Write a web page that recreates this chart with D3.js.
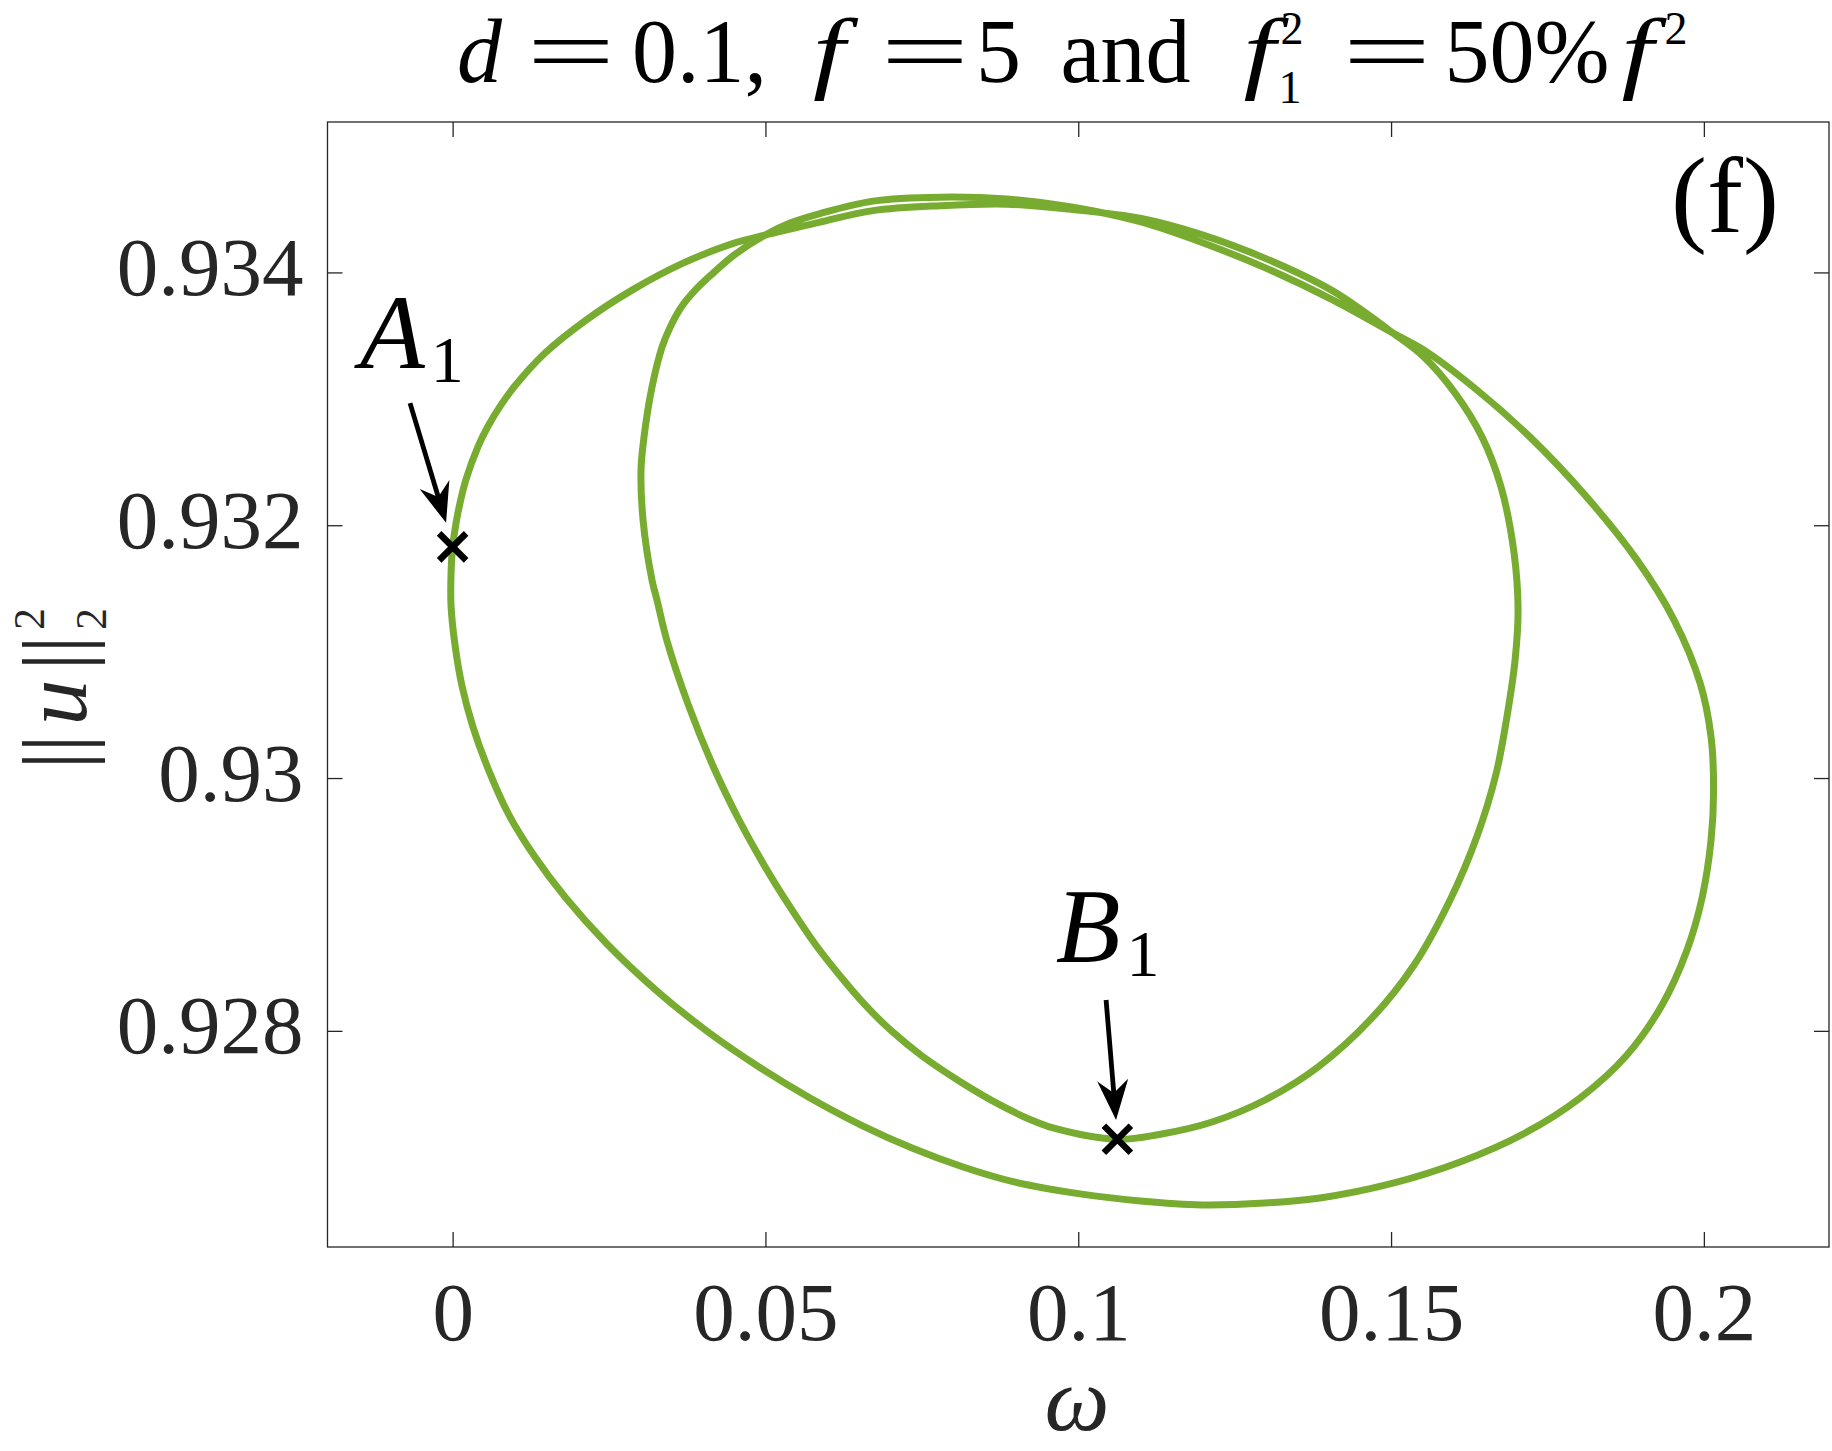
<!DOCTYPE html>
<html><head><meta charset="utf-8">
<script src="https://cdn.jsdelivr.net/npm/d3@7"></script>
<style>
body{margin:0;background:#fff}
svg{display:block}
text{font-family:"Liberation Serif","Times New Roman",serif}
</style>
</head><body>
<svg id="chart" width="1832" height="1451"></svg>
<script>
// ---------- data ----------
const xTicks = [0, 0.05, 0.1, 0.15, 0.2];
const xTickLabels = ["0", "0.05", "0.1", "0.15", "0.2"];
const yTicks = [0.928, 0.93, 0.932, 0.934];
const yTickLabels = ["0.928", "0.93", "0.932", "0.934"];
const xDomain = [-0.02, 0.22];
const yDomain = [0.92629, 0.93519];

// single closed response curve, traced in order (omega, ||u||^2)
// 1) from A1 up the outer-left arc to the left crossing
const seg1Omega = [0.0000, 0.00037, 0.00083, 0.00211, 0.00404, 0.00561, 0.00766, 0.00981, 0.01477, 0.02133, 0.02868, 0.03683, 0.04498, 0.04994];
const seg1Norm  = [0.931829, 0.931962, 0.932094, 0.932357, 0.932620, 0.932779, 0.932946, 0.933093, 0.933362, 0.933623, 0.933860, 0.934073, 0.934232, 0.934295];
// 2) top band (first pass) to the right crossing
const seg2Omega = [0.05393, 0.05873, 0.06720, 0.07791, 0.08862, 0.09917, 0.10988, 0.11947, 0.13018, 0.14073, 0.15032];
const seg2Norm  = [0.934342, 0.934398, 0.934489, 0.934528, 0.934540, 0.934497, 0.934429, 0.934303, 0.934105, 0.933852, 0.933520];
// 3) inner loop: right arc, bottom through B1, left arc back up to the left crossing
const seg3Omega = [0.15528, 0.16023, 0.16455, 0.16758, 0.16966, 0.17030, 0.16982, 0.16854, 0.16678, 0.16375, 0.15959, 0.15368, 0.14680, 0.13833, 0.12986, 0.12139, 0.11292, 0.10625, 0.09597, 0.09230, 0.08750, 0.08159, 0.07503, 0.07024, 0.06608, 0.06208, 0.05793, 0.05393, 0.04977, 0.04578, 0.04162, 0.03763, 0.03427, 0.03267, 0.03187, 0.03044, 0.03011, 0.03059, 0.03187, 0.03347, 0.03477, 0.03653, 0.03877, 0.04146, 0.04498, 0.04994];
const seg3Norm  = [0.933330, 0.933045, 0.932697, 0.932302, 0.931780, 0.931329, 0.930933, 0.930490, 0.930032, 0.929541, 0.929051, 0.928521, 0.928094, 0.927714, 0.927453, 0.927279, 0.927180, 0.927142, 0.927232, 0.927299, 0.927414, 0.927584, 0.927801, 0.927995, 0.928197, 0.928426, 0.928687, 0.928980, 0.929312, 0.929668, 0.930095, 0.930585, 0.931084, 0.931408, 0.931566, 0.932041, 0.932436, 0.932697, 0.933093, 0.933409, 0.933567, 0.933725, 0.933860, 0.933987, 0.934137, 0.934295];
// 4) top band (second pass) to the right crossing
const seg4Omega = [0.05393, 0.05873, 0.06720, 0.07791, 0.08862, 0.09917, 0.10988, 0.11947, 0.13018, 0.14073, 0.15032];
const seg4Norm  = [0.934390, 0.934465, 0.934564, 0.934595, 0.934580, 0.934516, 0.934402, 0.934243, 0.934030, 0.933781, 0.933520];
// 5) outer loop: right arc, bottom, and left arc back to A1
const seg5Omega = [0.15528, 0.16375, 0.17222, 0.18086, 0.18933, 0.19524, 0.19940, 0.20115, 0.20155, 0.20115, 0.19971, 0.19731, 0.19332, 0.18756, 0.18021, 0.17142, 0.16103, 0.14984, 0.13865, 0.12986, 0.11979, 0.10988, 0.10029, 0.08974, 0.08159, 0.07344, 0.06528, 0.05713, 0.04898, 0.04083, 0.03267, 0.02452, 0.01797, 0.01317, 0.00902, 0.00582, 0.00326, 0.00150, 0.00038, -0.00026, -0.00026];
const seg5Norm  = [0.933385, 0.933069, 0.932697, 0.932246, 0.931724, 0.931250, 0.930751, 0.930324, 0.929897, 0.929510, 0.929051, 0.928640, 0.928205, 0.927801, 0.927469, 0.927192, 0.926963, 0.926789, 0.926678, 0.926638, 0.926623, 0.926654, 0.926710, 0.926805, 0.926923, 0.927073, 0.927255, 0.927469, 0.927714, 0.927991, 0.928315, 0.928695, 0.929059, 0.929375, 0.929707, 0.930055, 0.930403, 0.930728, 0.931052, 0.931368, 0.931606];

// marked points
const pointNames = ["A", "B"];
const pointOmega = [0.0, 0.10625];
const pointNorm  = [0.931829, 0.927142];
// annotation arrows (tail -> tip) and label anchors, data coordinates
const arrowTailOmega = [-0.00681, 0.10445];
const arrowTailNorm  = [0.932966, 0.928244];
const arrowTipOmega  = [-0.00105, 0.10604];
const arrowTipNorm   = [0.932019, 0.927295];
const labelOmega = [-0.0148, 0.0964];
const labelNorm  = [0.933243, 0.928547];

// ---------- layout ----------
const svg = d3.select("#chart");
const L = 327.5, R = 1829, T = 122, B = 1247;
const x = d3.scaleLinear().domain(xDomain).range([L, R]);
const y = d3.scaleLinear().domain(yDomain).range([B, T]);
const axisColor = "#262626";

// axes (ticks inward, box)
const gx = svg.append("g").attr("transform", `translate(0,${B})`)
  .call(d3.axisBottom(x).tickValues(xTicks).tickSize(-15).tickSizeOuter(0).tickFormat((d,i)=>xTickLabels[i]));
const gxt = svg.append("g").attr("transform", `translate(0,${T})`)
  .call(d3.axisTop(x).tickValues(xTicks).tickSize(-15).tickSizeOuter(0).tickFormat(""));
const gy = svg.append("g").attr("transform", `translate(${L},0)`)
  .call(d3.axisLeft(y).tickValues(yTicks).tickSize(-15).tickSizeOuter(0).tickFormat((d,i)=>yTickLabels[i]));
const gyr = svg.append("g").attr("transform", `translate(${R},0)`)
  .call(d3.axisRight(y).tickValues(yTicks).tickSize(-15).tickSizeOuter(0).tickFormat(""));
[gx,gxt,gy,gyr].forEach(g=>{
  g.select(".domain").remove();
  g.selectAll(".tick line").attr("stroke", axisColor).attr("stroke-width", 1.3);
});
gx.selectAll(".tick text").attr("y", 93).attr("dy", 0)
  .attr("font-size", 83).attr("fill", axisColor).attr("font-family", "Liberation Serif");
gy.selectAll(".tick text").attr("x", -24).attr("y", 22).attr("dy", 0).attr("text-anchor", "end")
  .attr("font-size", 83).attr("fill", axisColor).attr("font-family", "Liberation Serif");
svg.append("rect").attr("x", L).attr("y", T).attr("width", R-L).attr("height", B-T)
  .attr("fill", "none").attr("stroke", axisColor).attr("stroke-width", 1.3);

// curve
const allOmega = [].concat(seg1Omega, seg2Omega, seg3Omega, seg4Omega, seg5Omega);
const allNorm  = [].concat(seg1Norm, seg2Norm, seg3Norm, seg4Norm, seg5Norm);
const pts = allOmega.map((w,i)=>[w, allNorm[i]]);
const line = d3.line().x(d=>x(d[0])).y(d=>y(d[1])).curve(d3.curveCatmullRomClosed.alpha(0.5));
svg.append("path").attr("d", line(pts)).attr("fill", "none")
  .attr("stroke", "#77AC30").attr("stroke-width", 7).attr("stroke-linejoin", "round");

// markers
pointOmega.forEach((w,i)=>{
  const cx = x(w), cy = y(pointNorm[i]), s = 13.5;
  svg.append("path").attr("d", `M${cx-s},${cy-s}L${cx+s},${cy+s}M${cx-s},${cy+s}L${cx+s},${cy-s}`)
    .attr("stroke", "#000").attr("stroke-width", 6.5);
});

// arrows
arrowTailOmega.forEach((w,i)=>{
  const x0 = x(w), y0 = y(arrowTailNorm[i]), x1 = x(arrowTipOmega[i]), y1 = y(arrowTipNorm[i]);
  const dx = x1-x0, dy = y1-y0, len = Math.hypot(dx,dy), ux = dx/len, uy = dy/len;
  const hl = 40, hw = 15.5, nd = 27;
  const bx = x1-ux*hl, by = y1-uy*hl;
  const nx = x1-ux*nd, ny = y1-uy*nd;
  svg.append("line").attr("x1", x0).attr("y1", y0).attr("x2", nx).attr("y2", ny)
    .attr("stroke", "#000").attr("stroke-width", 4.8);
  svg.append("path").attr("d", `M${x1},${y1}L${bx-uy*hw},${by+ux*hw}L${nx},${ny}L${bx+uy*hw},${by-ux*hw}Z`)
    .attr("fill", "#000");
});

// point labels
pointNames.forEach((n,i)=>{
  const lx = x(labelOmega[i]), ly = y(labelNorm[i]);
  const t = svg.append("text").attr("x", lx).attr("y", ly).attr("font-size", 106).attr("fill", "#000");
  t.append("tspan").attr("font-style", "italic").text(n);
  t.append("tspan").attr("font-size", 66).attr("dx", 6).attr("dy", 14).text("1");
});

// panel tag
svg.append("text").attr("x", 1725).attr("y", 232).attr("text-anchor", "middle")
  .attr("font-size", 108).attr("fill", "#000").text("(f)");

// generic piece helper
function piece(g, cx, by, str, size, opt={}){
  const t = g.append("text").attr("text-anchor", opt.anchor||"middle")
    .attr("font-size", size).attr("fill", opt.fill||"#000")
    .attr("font-style", opt.italic ? "italic" : "normal").text(str);
  if (opt.sx) t.attr("transform", `translate(${cx},${by}) scale(${opt.sx},1)`);
  else t.attr("x", cx).attr("y", by);
  return t;
}

// title
const tg = svg.append("g");
const TB = 82, TS = 90, SS = 46;
piece(tg, 479.5, TB, "d", TS, {italic:true});
piece(tg, 571, TB, "=", TS, {sx:1.75});
piece(tg, 699.5, TB, "0.1,", TS);
piece(tg, 829, TB, "f", 90, {italic:true, sx:1.28});
piece(tg, 925, TB, "=", TS, {sx:1.75});
piece(tg, 998.5, TB, "5", TS);
piece(tg, 1125.5, TB, "and", TS);
piece(tg, 1259.5, TB, "f", 90, {italic:true, sx:1.28});
piece(tg, 1290, 103, "1", SS);
piece(tg, 1292, 44, "2", SS);
piece(tg, 1387, TB, "=", TS, {sx:1.75});
piece(tg, 1527, TB, "50%", TS);
piece(tg, 1637.5, TB, "f", 90, {italic:true, sx:1.28});
piece(tg, 1676, 44, "2", SS);

// x label
piece(svg, 1077, 1430, "ω", 92, {italic:true, fill:axisColor});

// y label (rotated)
const yl = svg.append("g").attr("transform", "translate(86,762) rotate(-90)");
piece(yl, 1.5, 0, "|", 92, {fill:axisColor});
piece(yl, 18.5, 0, "|", 92, {fill:axisColor});
piece(yl, 59.5, 0, "u", 92, {italic:true, fill:axisColor});
piece(yl, 100.4, 0, "|", 92, {fill:axisColor});
piece(yl, 117.4, 0, "|", 92, {fill:axisColor});
piece(yl, 143, -42, "2", 44, {fill:axisColor});
piece(yl, 143, 20, "2", 44, {fill:axisColor});
</script>
</body></html>
